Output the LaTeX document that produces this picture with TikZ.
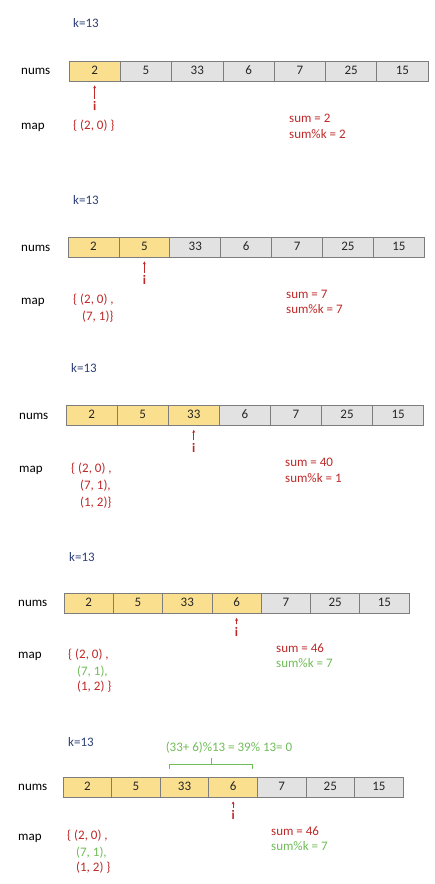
\documentclass[tikz,border=0pt]{standalone}
\usepackage{fontspec}
\setmainfont{Carlito}
\usetikzlibrary{positioning, arrows.meta}

\definecolor{amarillo}{RGB}{250,224,142}
\definecolor{grisclaro}{RGB}{226,226,226}
\definecolor{gris}{RGB}{125,125,125}
\definecolor{kazul}{RGB}{46,64,120}
\definecolor{rojo}{RGB}{190,40,40}
\definecolor{verde}{RGB}{112,188,88}

\begin{document}
\begin{tikzpicture}[x=1pt, y=-1pt,
    txt/.style={font=\fontsize{13}{15}\selectfont, inner sep=0pt, text height=9pt, text depth=2.5pt},
    izq/.style={txt, anchor=west},
    celda/.style={txt, draw=gris, line width=0.7pt, minimum height=20pt, text=black!85},
    hot/.style={fill=amarillo},
    cold/.style={fill=grisclaro},
    indice/.style={txt, text=rojo, font=\fontsize{13}{15}\selectfont\bfseries},
    puntero/.style={-{Stealth[length=3pt, width=3pt]}, rojo, line width=0.6pt, shorten <=2.5pt, shorten >=4pt}]

    % Marco de la figura
    \useasboundingbox (0,0) rectangle (434,884);

    % Fila nums: #1 nombre, #2 x izquierda, #3 y centro, #4 ancho de celda, #5 celdas ya sumadas
    \def\fila#1#2#3#4#5{%
        \foreach \v [count=\j] in {2,5,33,6,7,25,15} {%
            \pgfmathtruncatemacro{\dentro}{\j<=#5}%
            \ifnum\dentro=1 \def\tono{hot}\else\def\tono{cold}\fi
            \node[celda, \tono, minimum width=#4] (#1c\j) at ({#2+(\j-0.5)*#4},#3) {\v};
        }%
    }

    % Paso 1: i = 0
    \node[izq, text=kazul] (p1k) at (73,24) {k=13};
    \node[izq] (p1nums) at (21,71.5) {nums};
    \fila{p1}{69}{71}{51.3}{1}
    \node[indice, below=20pt of p1c1] (p1i) {i};
    \draw[puntero] (p1i) -- (p1c1);
    \node[izq] (p1map) at (21,126) {map};
    \node[izq, text=rojo] (p1m1) at (73,126) {\{ (2, 0) \}};
    \node[izq, text=rojo] (p1s1) at (289,119) {sum = 2};
    \node[izq, text=rojo] (p1s2) at (289,135) {sum\%k = 2};

    % Paso 2: i = 1
    \node[izq, text=kazul] (p2k) at (73,201) {k=13};
    \node[izq] (p2nums) at (21,248) {nums};
    \fila{p2}{68}{247}{50.9}{2}
    \node[indice, below=18pt of p2c2] (p2i) {i};
    \draw[puntero] (p2i) -- (p2c2);
    \node[izq] (p2map) at (21,301) {map};
    \node[izq, text=rojo] (p2m1) at (73,300) {\{ (2, 0) ,};
    \node[izq, text=rojo] (p2m2) at (82,317) {(7, 1)\}};
    \node[izq, text=rojo] (p2s1) at (286,295) {sum = 7};
    \node[izq, text=rojo] (p2s2) at (286,310) {sum\%k = 7};

    % Paso 3: i = 2
    \node[izq, text=kazul] (p3k) at (71,369) {k=13};
    \node[izq] (p3nums) at (19,416) {nums};
    \fila{p3}{66}{415.5}{51.1}{3}
    \node[indice, below=17pt of p3c3] (p3i) {i};
    \draw[puntero] (p3i) -- (p3c3);
    \node[izq] (p3map) at (19,469) {map};
    \node[izq, text=rojo] (p3m1) at (71,469) {\{ (2, 0) ,};
    \node[izq, text=rojo] (p3m2) at (80,486) {(7, 1),};
    \node[izq, text=rojo] (p3m3) at (80,503) {(1, 2)\}};
    \node[izq, text=rojo] (p3s1) at (285,463) {sum = 40};
    \node[izq, text=rojo] (p3s2) at (285,479) {sum\%k = 1};

    % Paso 4: i = 3, el resto 7 ya estaba en map
    \node[izq, text=kazul] (p4k) at (69,558) {k=13};
    \node[izq] (p4nums) at (18,603.5) {nums};
    \fila{p4}{64}{603.5}{49.3}{4}
    \node[indice, below=13pt of p4c4] (p4i) {i};
    \draw[puntero] (p4i) -- (p4c4);
    \node[izq] (p4map) at (18,655) {map};
    \node[izq, text=rojo] (p4m1) at (68,655) {\{ (2, 0) ,};
    \node[izq, text=verde] (p4m2) at (77,672) {(7, 1),};
    \node[izq, text=rojo] (p4m3) at (77,687) {(1, 2) \}};
    \node[izq, text=rojo] (p4s1) at (276,649) {sum = 46};
    \node[izq, text=verde] (p4s2) at (276,664) {sum\%k = 7};

    % Paso 5: subarreglo encontrado
    \node[izq, text=kazul] (p5k) at (68,743) {k=13};
    \node[txt, text=verde] (p5eq) at (229,748) {(33+ 6)\%13 = 39\% 13= 0};
    \node[izq] (p5nums) at (18,787) {nums};
    \fila{p5}{63}{787}{48.6}{4}
    \node[indice, below=13pt of p5c4] (p5i) {i};
    \draw[puntero] (p5i) -- (p5c4);
    \node[izq] (p5map) at (18,837) {map};
    \node[izq, text=rojo] (p5m1) at (67,836) {\{ (2, 0) ,};
    \node[izq, text=verde] (p5m2) at (76,853) {(7, 1),};
    \node[izq, text=rojo] (p5m3) at (76,868) {(1, 2) \}};
    \node[izq, text=rojo] (p5s1) at (271,832) {sum = 46};
    \node[izq, text=verde] (p5s2) at (271,847) {sum\%k = 7};

    % Llave sobre 33 y 6
    \draw[verde, line width=0.6pt] (169,769) -- (169,764) -- (252,764) -- (252,769);
    \draw[verde, line width=0.6pt] (211,764) -- (211,758);
\end{tikzpicture}
\end{document}
